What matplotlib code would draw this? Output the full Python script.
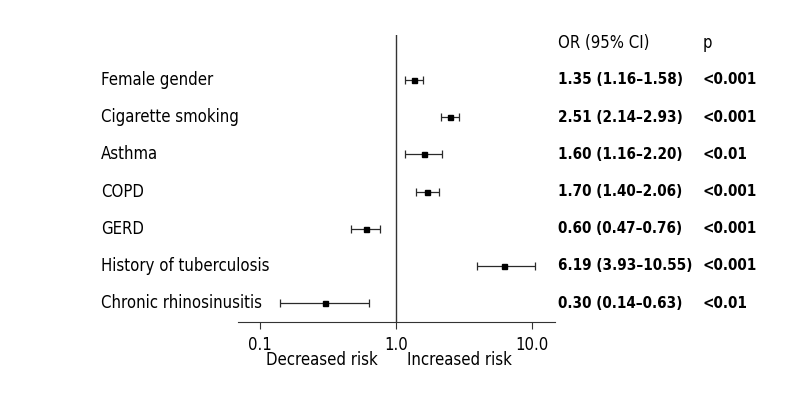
import matplotlib
matplotlib.use("Agg")
import matplotlib.pyplot as plt
from matplotlib import font_manager
from matplotlib.font_manager import FontProperties
import matplotlib.transforms as mtransforms

# ---- font selection: prefer a condensed sans face ----
entries = font_manager.fontManager.ttflist
def find(cond):
    for f in entries:
        if cond(f):
            return f.fname
    return None
def is_cond(f):
    s = (f.fname + f.name).lower()
    return ('condensed' in s or 'narrow' in s or f.stretch in ('condensed', 'semi-condensed', 'extra-condensed')) \
        and 'mono' not in s and 'serif' not in s.replace('sans', '')
def bold(f):
    return f.weight in ('bold', 700, 'semibold', 600) or 'bold' in f.fname.lower()
reg = find(lambda f: is_cond(f) and not bold(f) and f.style == 'normal')
bld = find(lambda f: is_cond(f) and bold(f) and f.style == 'normal')
if reg:
    fp_reg = FontProperties(fname=reg)
    fp_bold = FontProperties(fname=bld) if bld else FontProperties(fname=reg, weight='bold')
else:
    fp_reg = FontProperties(family='Roboto')
    fp_bold = FontProperties(family='Roboto', weight='bold')

labels = ["Female gender", "Cigarette smoking", "Asthma", "COPD", "GERD",
          "History of tuberculosis", "Chronic rhinosinusitis"]
odds = [1.35, 2.51, 1.60, 1.70, 0.60, 6.19, 0.30]
lower = [1.16, 2.14, 1.16, 1.40, 0.47, 3.93, 0.14]
upper = [1.58, 2.93, 2.20, 2.06, 0.76, 10.55, 0.63]
or_text = ["1.35 (1.16\u20131.58)", "2.51 (2.14\u20132.93)", "1.60 (1.16\u20132.20)",
           "1.70 (1.40\u20132.06)", "0.60 (0.47\u20130.76)", "6.19 (3.93\u201310.55)",
           "0.30 (0.14\u20130.63)"]
p_text = ["<0.001", "<0.001", "<0.01", "<0.001", "<0.001", "<0.001", "<0.01"]
header_or = "OR (95% CI)"
header_p = "p"
tick_vals = [0.1, 1.0, 10.0]
tick_labels = ["0.1", "1.0", "10.0"]

fig = plt.figure(figsize=(8, 4), dpi=100)
renderer = fig.canvas.get_renderer()

def width_px(s, fp, size):
    p = fp.copy(); p.set_size(size)
    w, h, d = renderer.get_text_width_height_descent(s, p, ismath=False)
    return w

# fit sizes to reference text widths (slightly enlarged to better match glyph height)
size_reg = 1.12 * 10 * 100 / width_px("Female gender", fp_reg, 10)
size_bold = 1.05 * 10 * 119 / width_px("1.35 (1.16\u20131.58)", fp_bold, 10)
size_reg = min(size_reg, 14)
size_bold = min(size_bold, 14)
fr = fp_reg.copy(); fr.set_size(size_reg)
fb = fp_bold.copy(); fb.set_size(size_bold)

ax = fig.add_axes([238/800, 1-322/400, (555-238)/800, (322-35)/400])
ax.set_xscale('log')
ax.set_xlim(0.0689, 14.8)
ax.set_ylim(6.51, -1.21)

ys = list(range(len(labels)))
xerr = [[o - l for o, l in zip(odds, lower)], [u - o for o, u in zip(odds, upper)]]
ax.errorbar(odds, ys, xerr=xerr, fmt='s', color='black', ecolor='#2a2a2a',
            markersize=3.6, elinewidth=0.9, capsize=3, capthick=0.9)
ax.axvline(1.0, color='#333333', lw=1)

for s in ['left', 'top', 'right']:
    ax.spines[s].set_visible(False)
ax.spines['bottom'].set_color('#333333')
ax.set_yticks([])
ax.set_xticks(tick_vals)
ax.set_xticklabels(tick_labels, fontproperties=fr)
ax.minorticks_off()
ax.tick_params(axis='x', direction='out', length=5, color='#333333', pad=5)

trans = mtransforms.blended_transform_factory(fig.transFigure, ax.transData)
for y, lab, ot, pt in zip(ys, labels, or_text, p_text):
    ax.text(101/800, y, lab, transform=trans, fontproperties=fr, va='center', ha='left')
    ax.text(558/800, y, ot, transform=trans, fontproperties=fb, va='center', ha='left')
    ax.text(703/800, y, pt, transform=trans, fontproperties=fb, va='center', ha='left')
ax.text(558/800, -1, header_or, transform=trans, fontproperties=fr, va='center', ha='left')
ax.text(703/800, -1, header_p, transform=trans, fontproperties=fr, va='center', ha='left')

fig.text(322/800, 1-360/400, "Decreased risk", fontproperties=fr, ha='center', va='center')
fig.text(459/800, 1-360/400, "Increased risk", fontproperties=fr, ha='center', va='center')

fig.savefig("out.png", dpi=100)
